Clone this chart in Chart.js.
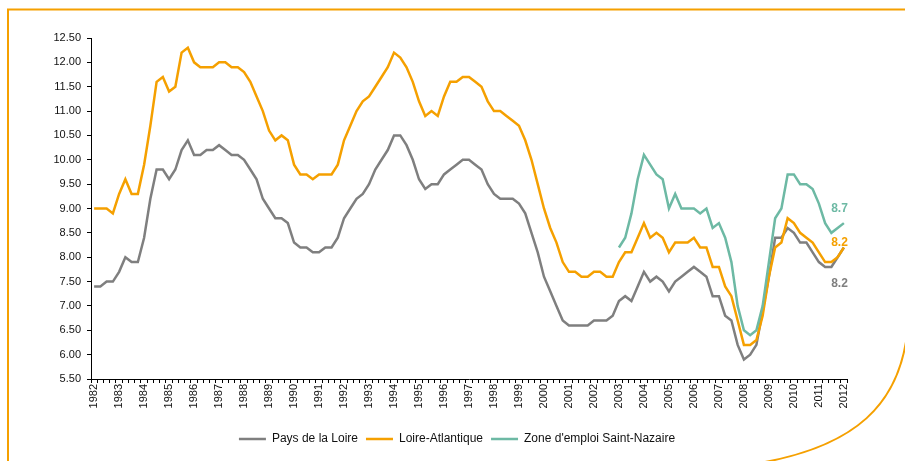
<!DOCTYPE html>
<html lang="fr">
<head>
  <meta charset="UTF-8" />
  <title>Taux de chômage trimestriel</title>
  <script src="https://cdn.jsdelivr.net/npm/chart.js"></script>
  <style>
    body { margin: 0; background: #fff; }
    #wrap { position: relative; width: 905px; height: 461px; }
    #frame { position: absolute; left: 0; top: 0; pointer-events: none; }
  </style>
</head>
<body>
  <div id="wrap">
    <canvas id="chart" width="905" height="461"></canvas>
    <svg id="frame" width="905" height="461">
      <path d="M 8 462 L 8 9.5 L 906 9.5" fill="none" stroke="#F5A000" stroke-width="2" />
      <path d="M 907 335 C 898 405, 855 445, 765 462" fill="none" stroke="#F5A000" stroke-width="2" />
    </svg>
  </div>

  <script>
    // years on the axis, one value per quarter (2012 : 1st quarter only)
    const years = [1982, 1983, 1984, 1985, 1986, 1987, 1988, 1989, 1990, 1991,
                   1992, 1993, 1994, 1995, 1996, 1997, 1998, 1999, 2000, 2001,
                   2002, 2003, 2004, 2005, 2006, 2007, 2008, 2009, 2010, 2011, 2012];
    const quarters = ['T1', 'T2', 'T3', 'T4'];

    const paysDeLaLoire = [
      7.4, 7.4, 7.5, 7.5,     // 1982
      7.7, 8.0, 7.9, 7.9,     // 1983
      8.4, 9.2, 9.8, 9.8,     // 1984
      9.6, 9.8, 10.2, 10.4,   // 1985
      10.1, 10.1, 10.2, 10.2, // 1986
      10.3, 10.2, 10.1, 10.1, // 1987
      10.0, 9.8, 9.6, 9.2,    // 1988
      9.0, 8.8, 8.8, 8.7,     // 1989
      8.3, 8.2, 8.2, 8.1,     // 1990
      8.1, 8.2, 8.2, 8.4,     // 1991
      8.8, 9.0, 9.2, 9.3,     // 1992
      9.5, 9.8, 10.0, 10.2,   // 1993
      10.5, 10.5, 10.3, 10.0, // 1994
      9.6, 9.4, 9.5, 9.5,     // 1995
      9.7, 9.8, 9.9, 10.0,    // 1996
      10.0, 9.9, 9.8, 9.5,    // 1997
      9.3, 9.2, 9.2, 9.2,     // 1998
      9.1, 8.9, 8.5, 8.1,     // 1999
      7.6, 7.3, 7.0, 6.7,     // 2000
      6.6, 6.6, 6.6, 6.6,     // 2001
      6.7, 6.7, 6.7, 6.8,     // 2002
      7.1, 7.2, 7.1, 7.4,     // 2003
      7.7, 7.5, 7.6, 7.5,     // 2004
      7.3, 7.5, 7.6, 7.7,     // 2005
      7.8, 7.7, 7.6, 7.2,     // 2006
      7.2, 6.8, 6.7, 6.2,     // 2007
      5.9, 6.0, 6.2, 6.9,     // 2008
      7.6, 8.4, 8.4, 8.6,     // 2009
      8.5, 8.3, 8.3, 8.1,     // 2010
      7.9, 7.8, 7.8, 8.0,     // 2011
      8.2                     // 2012
    ];

    const loireAtlantique = [
      9.0, 9.0, 9.0, 8.9,     // 1982
      9.3, 9.6, 9.3, 9.3,     // 1983
      9.9, 10.7, 11.6, 11.7,  // 1984
      11.4, 11.5, 12.2, 12.3, // 1985
      12.0, 11.9, 11.9, 11.9, // 1986
      12.0, 12.0, 11.9, 11.9, // 1987
      11.8, 11.6, 11.3, 11.0, // 1988
      10.6, 10.4, 10.5, 10.4, // 1989
      9.9, 9.7, 9.7, 9.6,     // 1990
      9.7, 9.7, 9.7, 9.9,     // 1991
      10.4, 10.7, 11.0, 11.2, // 1992
      11.3, 11.5, 11.7, 11.9, // 1993
      12.2, 12.1, 11.9, 11.6, // 1994
      11.2, 10.9, 11.0, 10.9, // 1995
      11.3, 11.6, 11.6, 11.7, // 1996
      11.7, 11.6, 11.5, 11.2, // 1997
      11.0, 11.0, 10.9, 10.8, // 1998
      10.7, 10.4, 10.0, 9.5,  // 1999
      9.0, 8.6, 8.3, 7.9,     // 2000
      7.7, 7.7, 7.6, 7.6,     // 2001
      7.7, 7.7, 7.6, 7.6,     // 2002
      7.9, 8.1, 8.1, 8.4,     // 2003
      8.7, 8.4, 8.5, 8.4,     // 2004
      8.1, 8.3, 8.3, 8.3,     // 2005
      8.4, 8.2, 8.2, 7.8,     // 2006
      7.8, 7.4, 7.2, 6.7,     // 2007
      6.2, 6.2, 6.3, 6.8,     // 2008
      7.6, 8.2, 8.3, 8.8,     // 2009
      8.7, 8.5, 8.4, 8.3,     // 2010
      8.1, 7.9, 7.9, 8.0,     // 2011
      8.2                     // 2012
    ];

    const saintNazaire = [
      null, null, null, null, // 1982
      null, null, null, null, // 1983
      null, null, null, null, // 1984
      null, null, null, null, // 1985
      null, null, null, null, // 1986
      null, null, null, null, // 1987
      null, null, null, null, // 1988
      null, null, null, null, // 1989
      null, null, null, null, // 1990
      null, null, null, null, // 1991
      null, null, null, null, // 1992
      null, null, null, null, // 1993
      null, null, null, null, // 1994
      null, null, null, null, // 1995
      null, null, null, null, // 1996
      null, null, null, null, // 1997
      null, null, null, null, // 1998
      null, null, null, null, // 1999
      null, null, null, null, // 2000
      null, null, null, null, // 2001
      null, null, null, null, // 2002
      8.2, 8.4, 8.9, 9.6,     // 2003
      10.1, 9.9, 9.7, 9.6,    // 2004
      9.0, 9.3, 9.0, 9.0,     // 2005
      9.0, 8.9, 9.0, 8.6,     // 2006
      8.7, 8.4, 7.9, 7.0,     // 2007
      6.5, 6.4, 6.5, 7.0,     // 2008
      7.9, 8.8, 9.0, 9.7,     // 2009
      9.7, 9.5, 9.5, 9.4,     // 2010
      9.1, 8.7, 8.5, 8.6,     // 2011
      8.7                     // 2012
    ];

    const yTicks = { min: 5.5, max: 12.5, step: 0.5 };

    const GRAY = '#7F7F7F';
    const ORANGE = '#F5A000';
    const TEAL = '#6DB9A4';

    // category labels "1982 T1" ... built from the years
    const labels = [];
    years.forEach(y => quarters.forEach(q => {
      if (labels.length < paysDeLaLoire.length) labels.push(y + ' ' + q);
    }));

    // value of the last quarter written next to each line
    const endLabels = {
      id: 'endLabels',
      afterDatasetsDraw(chart) {
        const ctx = chart.ctx;
        chart.data.datasets.forEach((ds, i) => {
          const meta = chart.getDatasetMeta(i);
          const pt = meta.data[meta.data.length - 1];
          const v = ds.data[ds.data.length - 1];
          ctx.save();
          ctx.font = 'bold 12px "Liberation Sans", Arial, sans-serif';
          ctx.fillStyle = ds.borderColor;
          ctx.textAlign = 'right';
          ctx.textBaseline = 'middle';
          ctx.fillText(v.toFixed(1), pt.x + 4, pt.y + ds.labelDy);
          ctx.restore();
        });
      }
    };

    // the legend sits a bit right of the canvas centre in the original
    const legendShift = {
      id: 'legendShift',
      afterLayout(chart) {
        const lg = chart.legend;
        const dx = 457 - (lg.left + lg.right) / 2;
        lg.left += dx;
        lg.right += dx;
      }
    };

    Chart.defaults.font.family = '"Liberation Sans", Arial, sans-serif';
    Chart.defaults.font.size = 11;
    Chart.defaults.color = '#111';

    const ctx = document.getElementById('chart').getContext('2d');
    new Chart(ctx, {
      type: 'line',
      data: {
        labels: labels,
        datasets: [
          { label: 'Pays de la Loire', data: paysDeLaLoire, borderColor: GRAY, backgroundColor: GRAY, order: 2, labelDy: 36 },
          { label: 'Loire-Atlantique', data: loireAtlantique, borderColor: ORANGE, backgroundColor: ORANGE, order: 1, labelDy: -5 },
          { label: "Zone d'emploi Saint-Nazaire", data: saintNazaire, borderColor: TEAL, backgroundColor: TEAL, order: 0, labelDy: -14 }
        ]
      },
      options: {
        responsive: false,
        animation: false,
        layout: { padding: { left: 0, right: 58, top: 38, bottom: 6 } },
        elements: {
          line: { borderWidth: 2.5, tension: 0, fill: false },
          point: { radius: 0, hoverRadius: 0, borderWidth: 2.5 }
        },
        plugins: {
          tooltip: { enabled: false },
          legend: {
            position: 'bottom',
            labels: {
              usePointStyle: true,
              pointStyle: 'line',
              pointStyleWidth: 27,
              boxHeight: 12,
              padding: 8,
              color: '#111',
              font: { size: 12 },
              sort: (a, b) => a.datasetIndex - b.datasetIndex
            }
          }
        },
        scales: {
          x: {
            type: 'category',
            offset: true,
            grid: { offset: true, drawOnChartArea: false, tickLength: 4, color: '#000' },
            border: { color: '#000', width: 1 },
            ticks: {
              autoSkip: false,
              maxRotation: 90,
              minRotation: 90,
              padding: 1,
              callback: function (v) {
                const l = this.getLabelForValue(v);
                return l.endsWith('T1') ? l.slice(0, 4) : '';
              }
            },
            afterFit: s => { s.height = 46; }
          },
          y: {
            min: yTicks.min,
            max: yTicks.max,
            grid: { drawOnChartArea: false, tickLength: 4, color: '#000' },
            border: { color: '#000', width: 1 },
            ticks: {
              stepSize: yTicks.step,
              padding: 6,
              callback: v => v.toFixed(2)
            },
            afterFit: s => { s.width = 91; }
          }
        }
      },
      plugins: [endLabels, legendShift]
    });
  </script>
</body>
</html>
